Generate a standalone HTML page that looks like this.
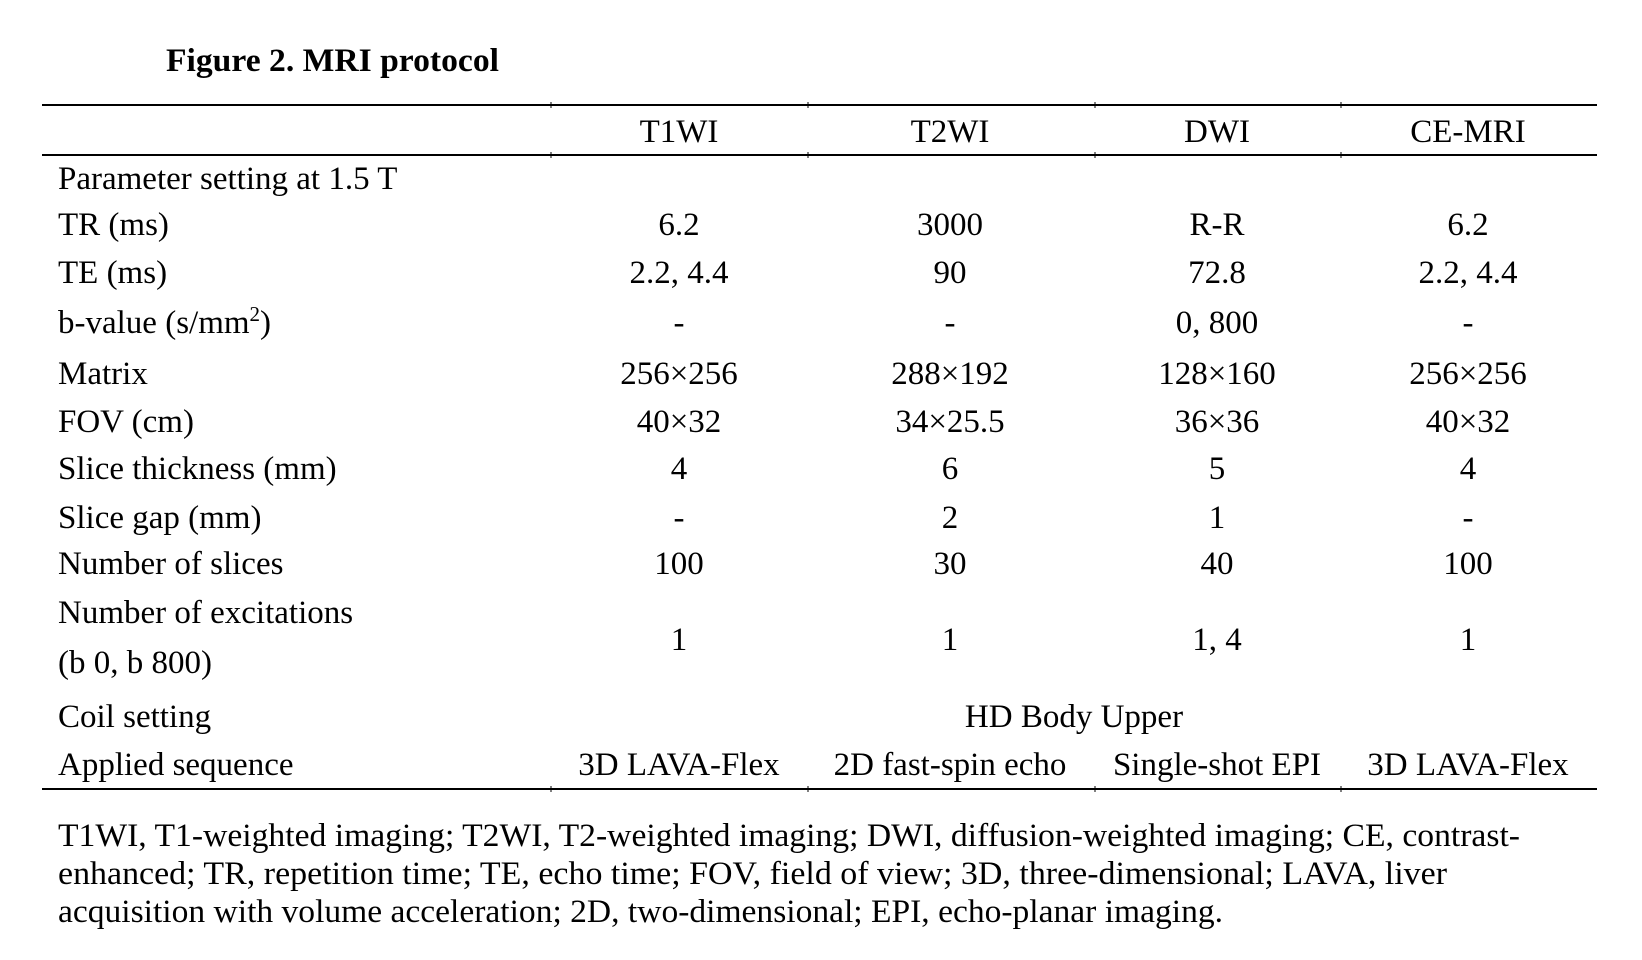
<!DOCTYPE html>
<html><head><meta charset="utf-8"><style>
html,body{margin:0;padding:0;background:#fff;}
svg{display:block;font-family:"Liberation Serif","Times New Roman",serif;}
text{fill:#000;font-size:33px;}
</style></head><body>
<svg width="1642" height="960" viewBox="0 0 1642 960">
<text x="166" y="71" font-weight="bold" style="font-size:33px" textLength="333" lengthAdjust="spacingAndGlyphs">Figure 2. MRI protocol</text>
<g stroke="#000" stroke-width="2">
<line x1="42" y1="105" x2="1597" y2="105"/>
<line x1="42" y1="155" x2="1597" y2="155"/>
<line x1="42" y1="789" x2="1597" y2="789"/>
</g>
<g id="rows"></g>
<text x="58" y="846" textLength="1462" lengthAdjust="spacingAndGlyphs">T1WI, T1-weighted imaging; T2WI, T2-weighted imaging; DWI, diffusion-weighted imaging; CE, contrast-</text>
<text x="58" y="884" textLength="1389" lengthAdjust="spacingAndGlyphs">enhanced; TR, repetition time; TE, echo time; FOV, field of view; 3D, three-dimensional; LAVA, liver</text>
<text x="58" y="922" textLength="1165" lengthAdjust="spacingAndGlyphs">acquisition with volume acceleration; 2D, two-dimensional; EPI, echo-planar imaging.</text>
</svg>
<script>
const columns = ["T1WI","T2WI","DWI","CE-MRI"];
const rowLabels = ["TR (ms)","TE (ms)","b-value","Matrix","FOV (cm)","Slice thickness (mm)","Slice gap (mm)","Number of slices"];
const t1Values = ["6.2","2.2, 4.4","-","256×256","40×32","4","-","100"];
const t2Values = ["3000","90","-","288×192","34×25.5","6","2","30"];
const dwiValues = ["R-R","72.8","0, 800","128×160","36×36","5","1","40"];
const ceValues = ["6.2","2.2, 4.4","-","256×256","40×32","4","-","100"];
const excitations = ["1","1","1, 4","1"];
const sequences = ["3D LAVA-Flex","2D fast-spin echo","Single-shot EPI","3D LAVA-Flex"];

const NS="http://www.w3.org/2000/svg";
const g=document.getElementById('rows');
const colX=[679,950,1217,1468];
const baselines=[235,283,333,384,432,479,528,574];
function txt(x,y,s,anchor){const t=document.createElementNS(NS,'text');t.setAttribute('x',x);t.setAttribute('y',y);if(anchor)t.setAttribute('text-anchor',anchor);t.textContent=s;g.appendChild(t);return t;}
columns.forEach((c,i)=>{const t=txt(colX[i],142,c,'middle');

});
[[551,105],[808,105],[1095,105],[1341,105],[551,155],[808,155],[1095,155],[1341,155],[551,789],[808,789],[1095,789],[1341,789]].forEach(p=>{const l=document.createElementNS(NS,'line');l.setAttribute('x1',p[0]);l.setAttribute('x2',p[0]);l.setAttribute('y1',p[1]-3);l.setAttribute('y2',p[1]+3);l.setAttribute('stroke','#000');g.appendChild(l);});
let t=txt(58,189,'Parameter setting at 1.5 T');


const series=[t1Values,t2Values,dwiValues,ceValues];
rowLabels.forEach((r,i)=>{
 let lab;
 if(r==='b-value'){lab=txt(58,baselines[i],'');lab.innerHTML='b-value (s/mm<tspan dy="-12" style="font-size:21px">2</tspan><tspan dy="12">)</tspan>';}
 else lab=txt(58,baselines[i],r);
 
 
 series.forEach((s,j)=>{const c=txt(colX[j],baselines[i],s[i],'middle');
 
 });
});
t=txt(58,623,'Number of excitations');


t=txt(58,673,'(b 0, b 800)');


excitations.forEach((v,j)=>{const c=txt(colX[j],650,v,'middle');

});
t=txt(58,727,'Coil setting');


t=txt(1074,727,'HD Body Upper','middle');


t=txt(58,775,'Applied sequence');


sequences.forEach((v,j)=>{const c=txt(colX[j],775,v,'middle');

});
</script>
</body></html>
